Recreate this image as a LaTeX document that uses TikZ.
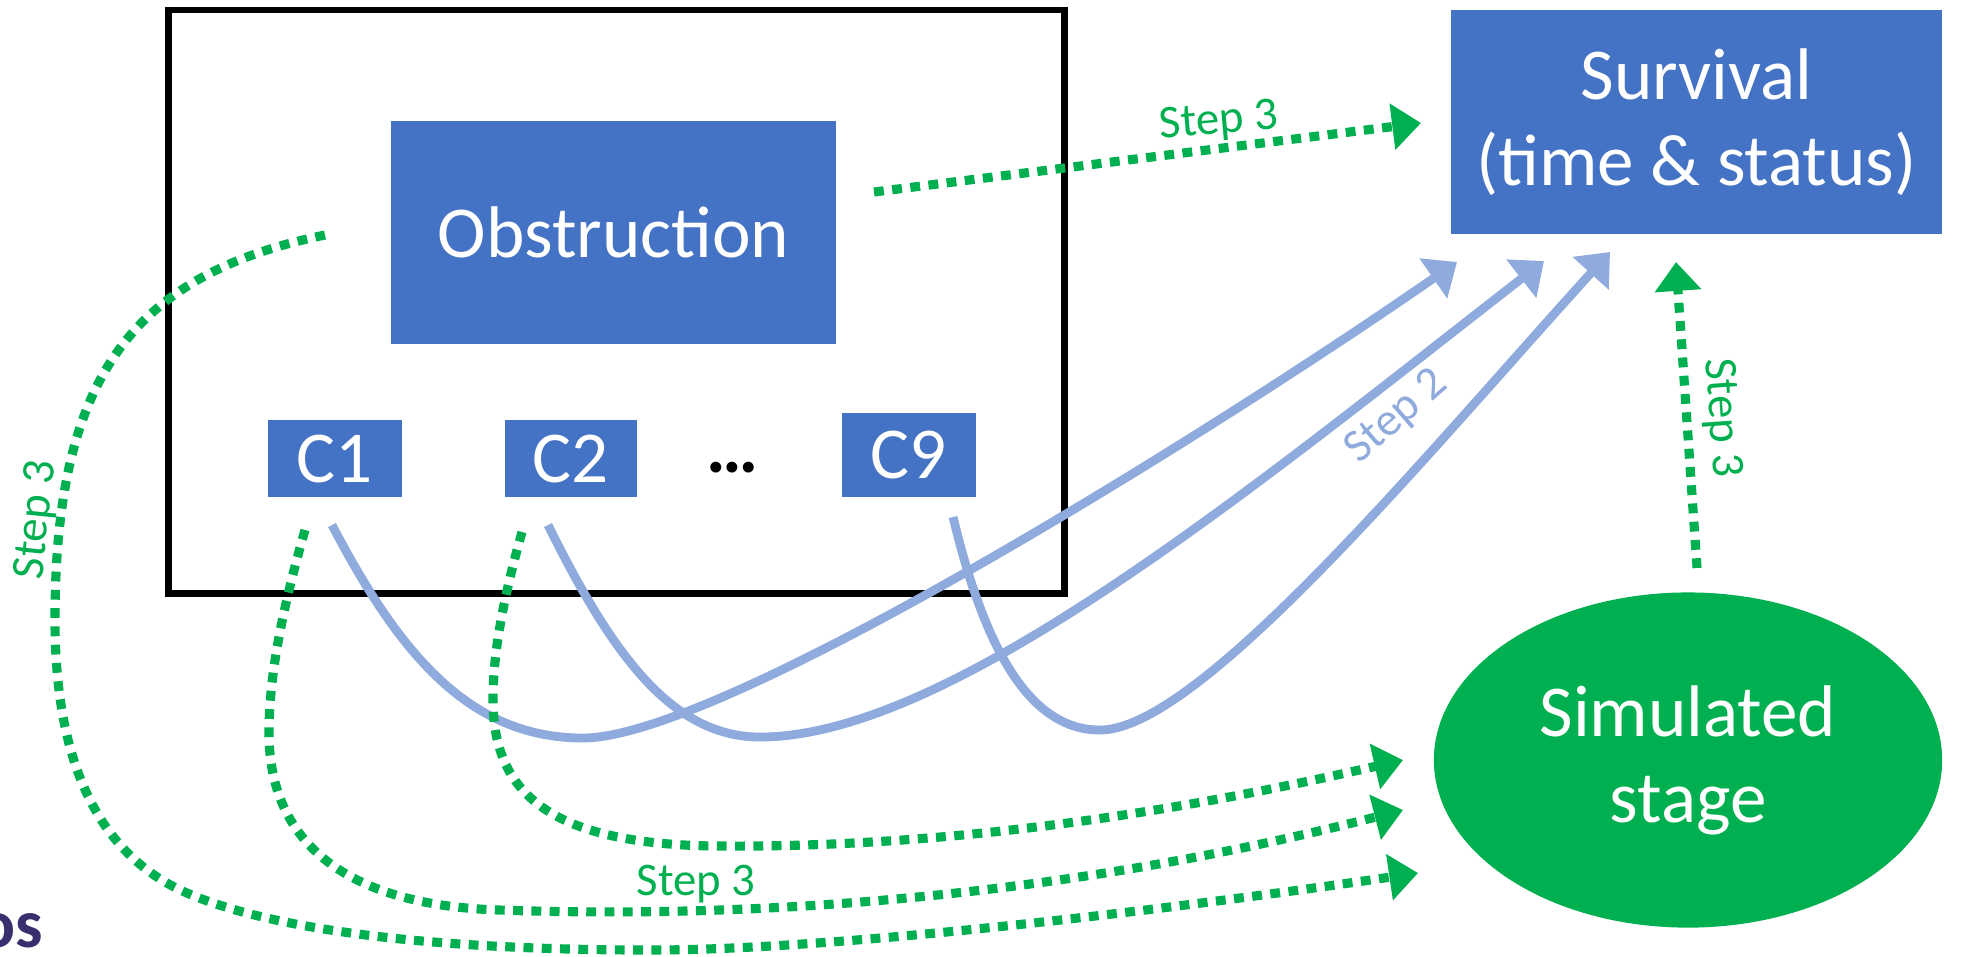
\documentclass[tikz,border=0pt]{standalone}
\usepackage{fontspec}
\setmainfont{Carlito}
\usetikzlibrary{arrows.meta,shapes.geometric}
\definecolor{boxblue}{HTML}{4472C4}
\definecolor{stepgreen}{HTML}{00B050}
\definecolor{linkblue}{HTML}{8FAADC}
\definecolor{brandpurple}{HTML}{3B2E6E}

\begin{document}
\begin{tikzpicture}[x=0.01cm,y=-0.01cm,
  varbox/.style={fill=boxblue, text=white, inner sep=0pt, align=center,
    font=\fontsize{20.8}{24.5}\selectfont},
  stagebox/.style={ellipse, fill=stepgreen, text=white, inner sep=0pt, align=center,
    font=\fontsize{20.8}{24.5}\selectfont},
  stepthree/.style={stepgreen, line width=2.6pt, dash pattern=on 2.8pt off 2.4pt,
    -{Triangle[length=8.2pt,width=12.8pt]}},
  steptwo/.style={linkblue, line width=2.5pt,
    -{Triangle[length=8.2pt,width=13.4pt]}},
  steplabel/.style={inner sep=0pt, font=\fontsize{13.3}{16}\selectfont}]

\useasboundingbox (0,0) rectangle (1977,956);

% group frame
\node[draw, line width=1.9pt, minimum width=8.96cm, minimum height=5.83cm, inner sep=0pt]
  (frame) at (616.5,301.5) {};

% variables
\node[varbox, minimum width=4.45cm, minimum height=2.23cm] (obs) at (613.5,232.5) {Obstruction};
\node[varbox, minimum width=1.34cm, minimum height=0.77cm] (c1) at (335,458.5) {C1};
\node[varbox, minimum width=1.32cm, minimum height=0.77cm] (c2) at (571,458.5) {C2};
\node[varbox, minimum width=1.34cm, minimum height=0.84cm] (c9) at (909,455) {C9};
\node[inner sep=0pt, font=\bfseries\fontsize{20.8}{24}\selectfont] (dots) at (733,468) {…};

% outcomes
\node[varbox, minimum width=4.91cm, minimum height=2.24cm] (surv) at (1696.5,122) {Survival\\(time \& status)};
\node[stagebox, minimum width=5.08cm, minimum height=3.35cm] (stage) at (1688,760) {Simulated\\stage};

% connector end points
\coordinate (obs-r) at (874,192);
\coordinate (obs-l) at (325,235);
\coordinate (c1-g) at (305,530);
\coordinate (c2-g) at (522,532);
\coordinate (c1-b) at (332,525);
\coordinate (c2-b) at (548,525);
\coordinate (c9-b) at (953,517);
\coordinate (surv-in) at (1421,123);
\coordinate (surv-b1) at (1457,262);
\coordinate (surv-b2) at (1544,261);
\coordinate (surv-b3) at (1610,252);
\coordinate (surv-up) at (1676,262);
\coordinate (stage-top) at (1697,568);
\coordinate (stage-in1) at (1403,760);
\coordinate (stage-in2) at (1403,810);
\coordinate (stage-in3) at (1418,873);

% step 2: components to survival
\draw[steptwo] (c1-b) .. controls (400,655) and (470,738) .. (583,738)
  .. controls (720,738) and (1200,440) .. (surv-b1);
\draw[steptwo] (c2-b) .. controls (610,650) and (670,737) .. (760,737)
  .. controls (950,737) and (1250,490) .. (surv-b2);
\draw[steptwo] (c9-b) .. controls (985,650) and (1030,730) .. (1100,730)
  .. controls (1200,730) and (1430,450) .. (surv-b3);

% step 3: obstruction and components to outcomes
\draw[stepthree] (obs-r) -- (surv-in);
\draw[stepthree] (obs-l) .. controls (130,275) and (55,380) .. (55,620)
  .. controls (55,780) and (110,860) .. (187,893)
  .. controls (280,933) and (450,950) .. (650,950)
  .. controls (850,950) and (1200,905) .. (stage-in3);
\draw[stepthree] (c1-g) .. controls (285,600) and (269,670) .. (269,733)
  .. controls (269,830) and (330,905) .. (500,910)
  .. controls (850,922) and (1150,875) .. (stage-in2);
\draw[stepthree] (c2-g) .. controls (500,610) and (493,660) .. (493,700)
  .. controls (493,800) and (560,845) .. (720,846)
  .. controls (1000,848) and (1250,795) .. (stage-in1);
\draw[stepthree] (stage-top) -- (surv-up);

% labels
\node[steplabel, text=stepgreen, rotate=5] (lab-top) at (1219,122) {Step 3};
\node[steplabel, text=stepgreen, rotate=84] (lab-left) at (37,520) {Step 3};
\node[steplabel, text=stepgreen] (lab-bottom) at (696,884) {Step 3};
\node[steplabel, text=stepgreen, rotate=-86] (lab-right) at (1721,418) {Step 3};
\node[steplabel, text=linkblue, rotate=41] (lab-two) at (1397,417) {Step 2};

% brand fragment at the lower left edge
\node[anchor=base west, inner sep=0pt, text=brandpurple,
  font=\bfseries\fontsize{19.6}{22}\selectfont] (brand) at (-22,947) {os};
\end{tikzpicture}
\end{document}
